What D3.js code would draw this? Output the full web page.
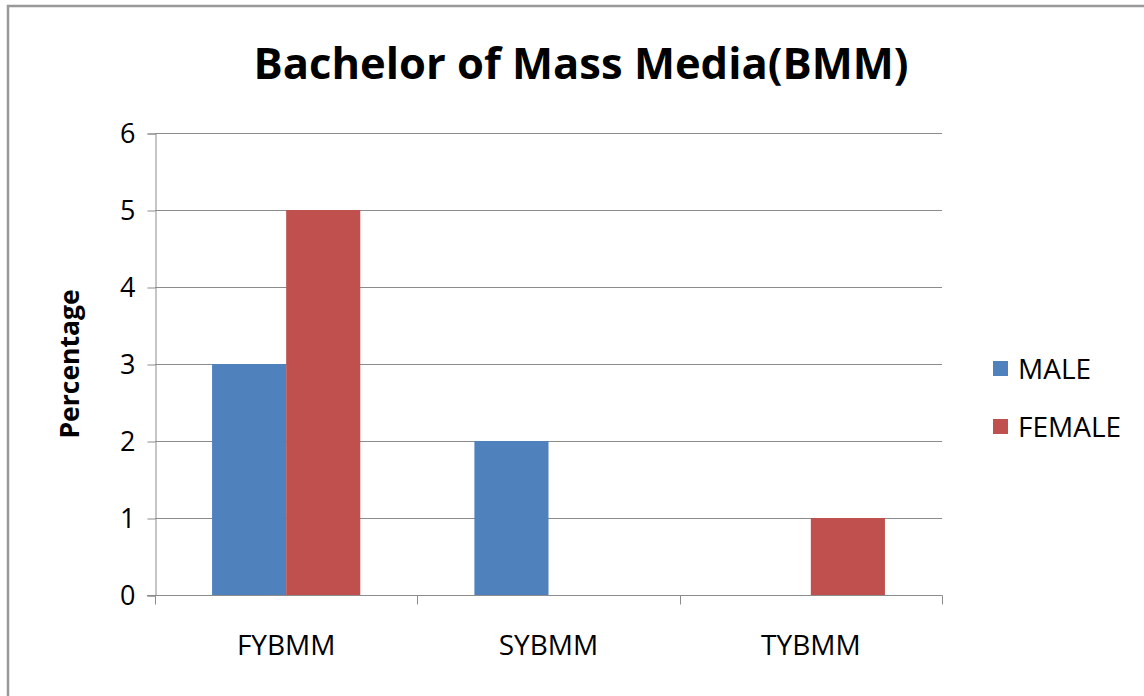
<!DOCTYPE html>
<html>
<head>
<meta charset="utf-8">
<script src="https://cdn.jsdelivr.net/npm/d3@7"></script>
<style>
  body { margin: 0; background: #fff; }
  text { font-family: "Open Sans", sans-serif; fill: #000; }
</style>
</head>
<body>
<div id="viz"></div>
<script>
var categories = ["FYBMM", "SYBMM", "TYBMM"];
var seriesNames = ["MALE", "FEMALE"];
var maleValues = [3, 2, 0];
var femaleValues = [5, 0, 1];
var yTicks = [0, 1, 2, 3, 4, 5, 6];
var colors = ["#4F81BD", "#C0504D"];

(function () {
  var W = 1144, H = 696;
  var svg = d3.select("#viz").append("svg")
    .attr("width", W)
    .attr("height", H);

  // outer chart border (only top/left show in the picture)
  svg.append("rect")
    .attr("x", 8).attr("y", 6)
    .attr("width", W + 20).attr("height", H + 20)
    .attr("fill", "#fff")
    .attr("stroke", "#999")
    .attr("stroke-width", 2.5);

  var pLeft = 155, pRight = 942, pTop = 133, pBottom = 595;

  var x = d3.scaleBand().domain(categories).range([pLeft, pRight]).padding(0);
  var xs = d3.scaleBand().domain(seriesNames)
    .range([0, x.bandwidth()])
    .paddingInner(0)
    .paddingOuter(0.77);
  var y = d3.scaleLinear().domain([0, 6]).range([pBottom, pTop]);

  // gridlines
  svg.append("g").selectAll("line")
    .data(yTicks.filter(function (d) { return d > 0; }))
    .enter().append("line")
    .attr("x1", pLeft).attr("x2", pRight)
    .attr("y1", function (d) { return y(d) + 0.5; })
    .attr("y2", function (d) { return y(d) + 0.5; })
    .attr("stroke", "#8c8c8c")
    .attr("stroke-width", 1);

  // bars
  var data = [];
  categories.forEach(function (c, i) {
    data.push({ cat: c, s: "MALE", v: maleValues[i], color: colors[0] });
    data.push({ cat: c, s: "FEMALE", v: femaleValues[i], color: colors[1] });
  });
  svg.append("g").selectAll("rect")
    .data(data.filter(function (d) { return d.v > 0; }))
    .enter().append("rect")
    .attr("x", function (d) { return x(d.cat) + xs(d.s); })
    .attr("width", xs.bandwidth())
    .attr("y", function (d) { return y(d.v); })
    .attr("height", function (d) { return y(0) - y(d.v); })
    .attr("fill", function (d) { return d.color; });

  // y axis
  var yAxis = svg.append("g")
    .attr("transform", "translate(" + (pLeft + 0.5) + ",0.5)")
    .call(d3.axisLeft(y).tickValues(yTicks).tickSize(8).tickPadding(12).tickFormat(d3.format("d")));
  yAxis.select(".domain").attr("stroke", "#8c8c8c");
  yAxis.selectAll(".tick line").attr("stroke", "#8c8c8c");
  yAxis.selectAll("text")
    .style("font-family", "'Open Sans', sans-serif")
    .style("font-size", "27px")
    .attr("fill", "#000");

  // x axis with ticks on category boundaries
  var xAxisG = svg.append("g")
    .attr("transform", "translate(0," + (pBottom + 0.5) + ")");
  xAxisG.append("line")
    .attr("x1", pLeft - 8).attr("x2", pRight + 0.5)
    .attr("stroke", "#8c8c8c");
  var bounds = categories.map(function (c) { return x(c); }).concat([pRight]);
  xAxisG.selectAll("line.tk")
    .data(bounds)
    .enter().append("line")
    .attr("class", "tk")
    .attr("x1", function (d) { return Math.round(d) + 0.5; })
    .attr("x2", function (d) { return Math.round(d) + 0.5; })
    .attr("y1", 0).attr("y2", 9)
    .attr("stroke", "#8c8c8c");
  xAxisG.selectAll("text")
    .data(categories)
    .enter().append("text")
    .attr("x", function (d) { return x(d) + x.bandwidth() / 2; })
    .attr("y", 59)
    .attr("text-anchor", "middle")
    .style("font-size", "28px")
    .text(function (d) { return d; });

  // title
  svg.append("text")
    .attr("x", 581).attr("y", 79)
    .attr("text-anchor", "middle")
    .style("font-size", "43.5px")
    .style("font-weight", "bold")
    .text("Bachelor of Mass Media(BMM)");

  // y axis title
  svg.append("text")
    .attr("transform", "translate(79," + ((pTop + pBottom) / 2) + ") rotate(-90)")
    .attr("text-anchor", "middle")
    .style("font-size", "26.5px")
    .style("font-weight", "bold")
    .text("Percentage");

  // legend
  var legend = svg.append("g").selectAll("g")
    .data(seriesNames)
    .enter().append("g")
    .attr("transform", function (d, i) { return "translate(993," + (361 + i * 58) + ")"; });
  legend.append("rect")
    .attr("width", 15).attr("height", 15)
    .attr("fill", function (d, i) { return colors[i]; });
  legend.append("text")
    .attr("x", 25).attr("y", 18)
    .style("font-size", "28px")
    .text(function (d) { return d; });
})();
</script>
</body>
</html>
